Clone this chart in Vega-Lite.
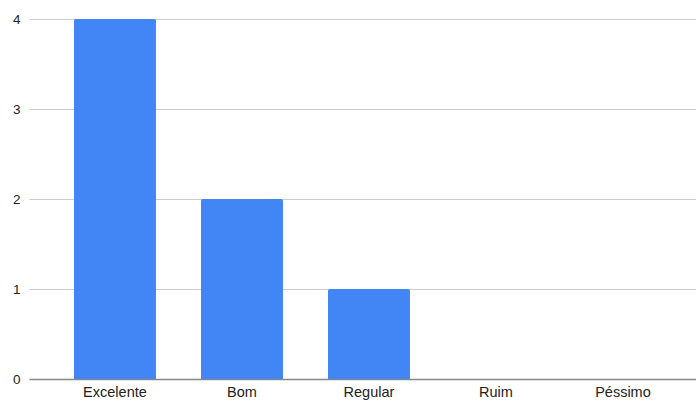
{
  "$schema": "https://vega.github.io/schema/vega-lite/v6.json",
  "autosize": {"type": "none"},
  "padding": {"left": 29, "top": 19, "right": 0, "bottom": 22},
  "width": 667,
  "height": 360,
  "background": "white",
  "data": {"values": [
    {"categoria": "Excelente", "valor": 4},
    {"categoria": "Bom", "valor": 2},
    {"categoria": "Regular", "valor": 1},
    {"categoria": "Ruim", "valor": 0},
    {"categoria": "Péssimo", "valor": 0}
  ]},
  "config": {
    "view": {"stroke": null},
    "font": "Liberation Sans"
  },
  "mark": {"type": "bar", "color": "#4285F4", "cornerRadiusTopLeft": 2, "cornerRadiusTopRight": 2},
  "encoding": {
    "x": {
      "field": "categoria", "type": "nominal", "sort": null,
      "scale": {"paddingInner": 0.354, "paddingOuter": 0.303, "align": 0.584},
      "axis": {"title": null, "labelAngle": 0, "labelFontSize": 14.5, "labelColor": "#222222", "ticks": false, "domainColor": "#888888", "domainWidth": 1.5, "labelPadding": 6}
    },
    "y": {
      "field": "valor", "type": "quantitative",
      "scale": {"domain": [0, 4], "nice": false},
      "axis": {"title": null, "values": [0, 1, 2, 3, 4], "format": "d", "labelFontSize": 13.5, "labelColor": "#222222", "ticks": false, "domain": false, "gridColor": "#cccccc", "labelPadding": 9}
    }
  }
}
